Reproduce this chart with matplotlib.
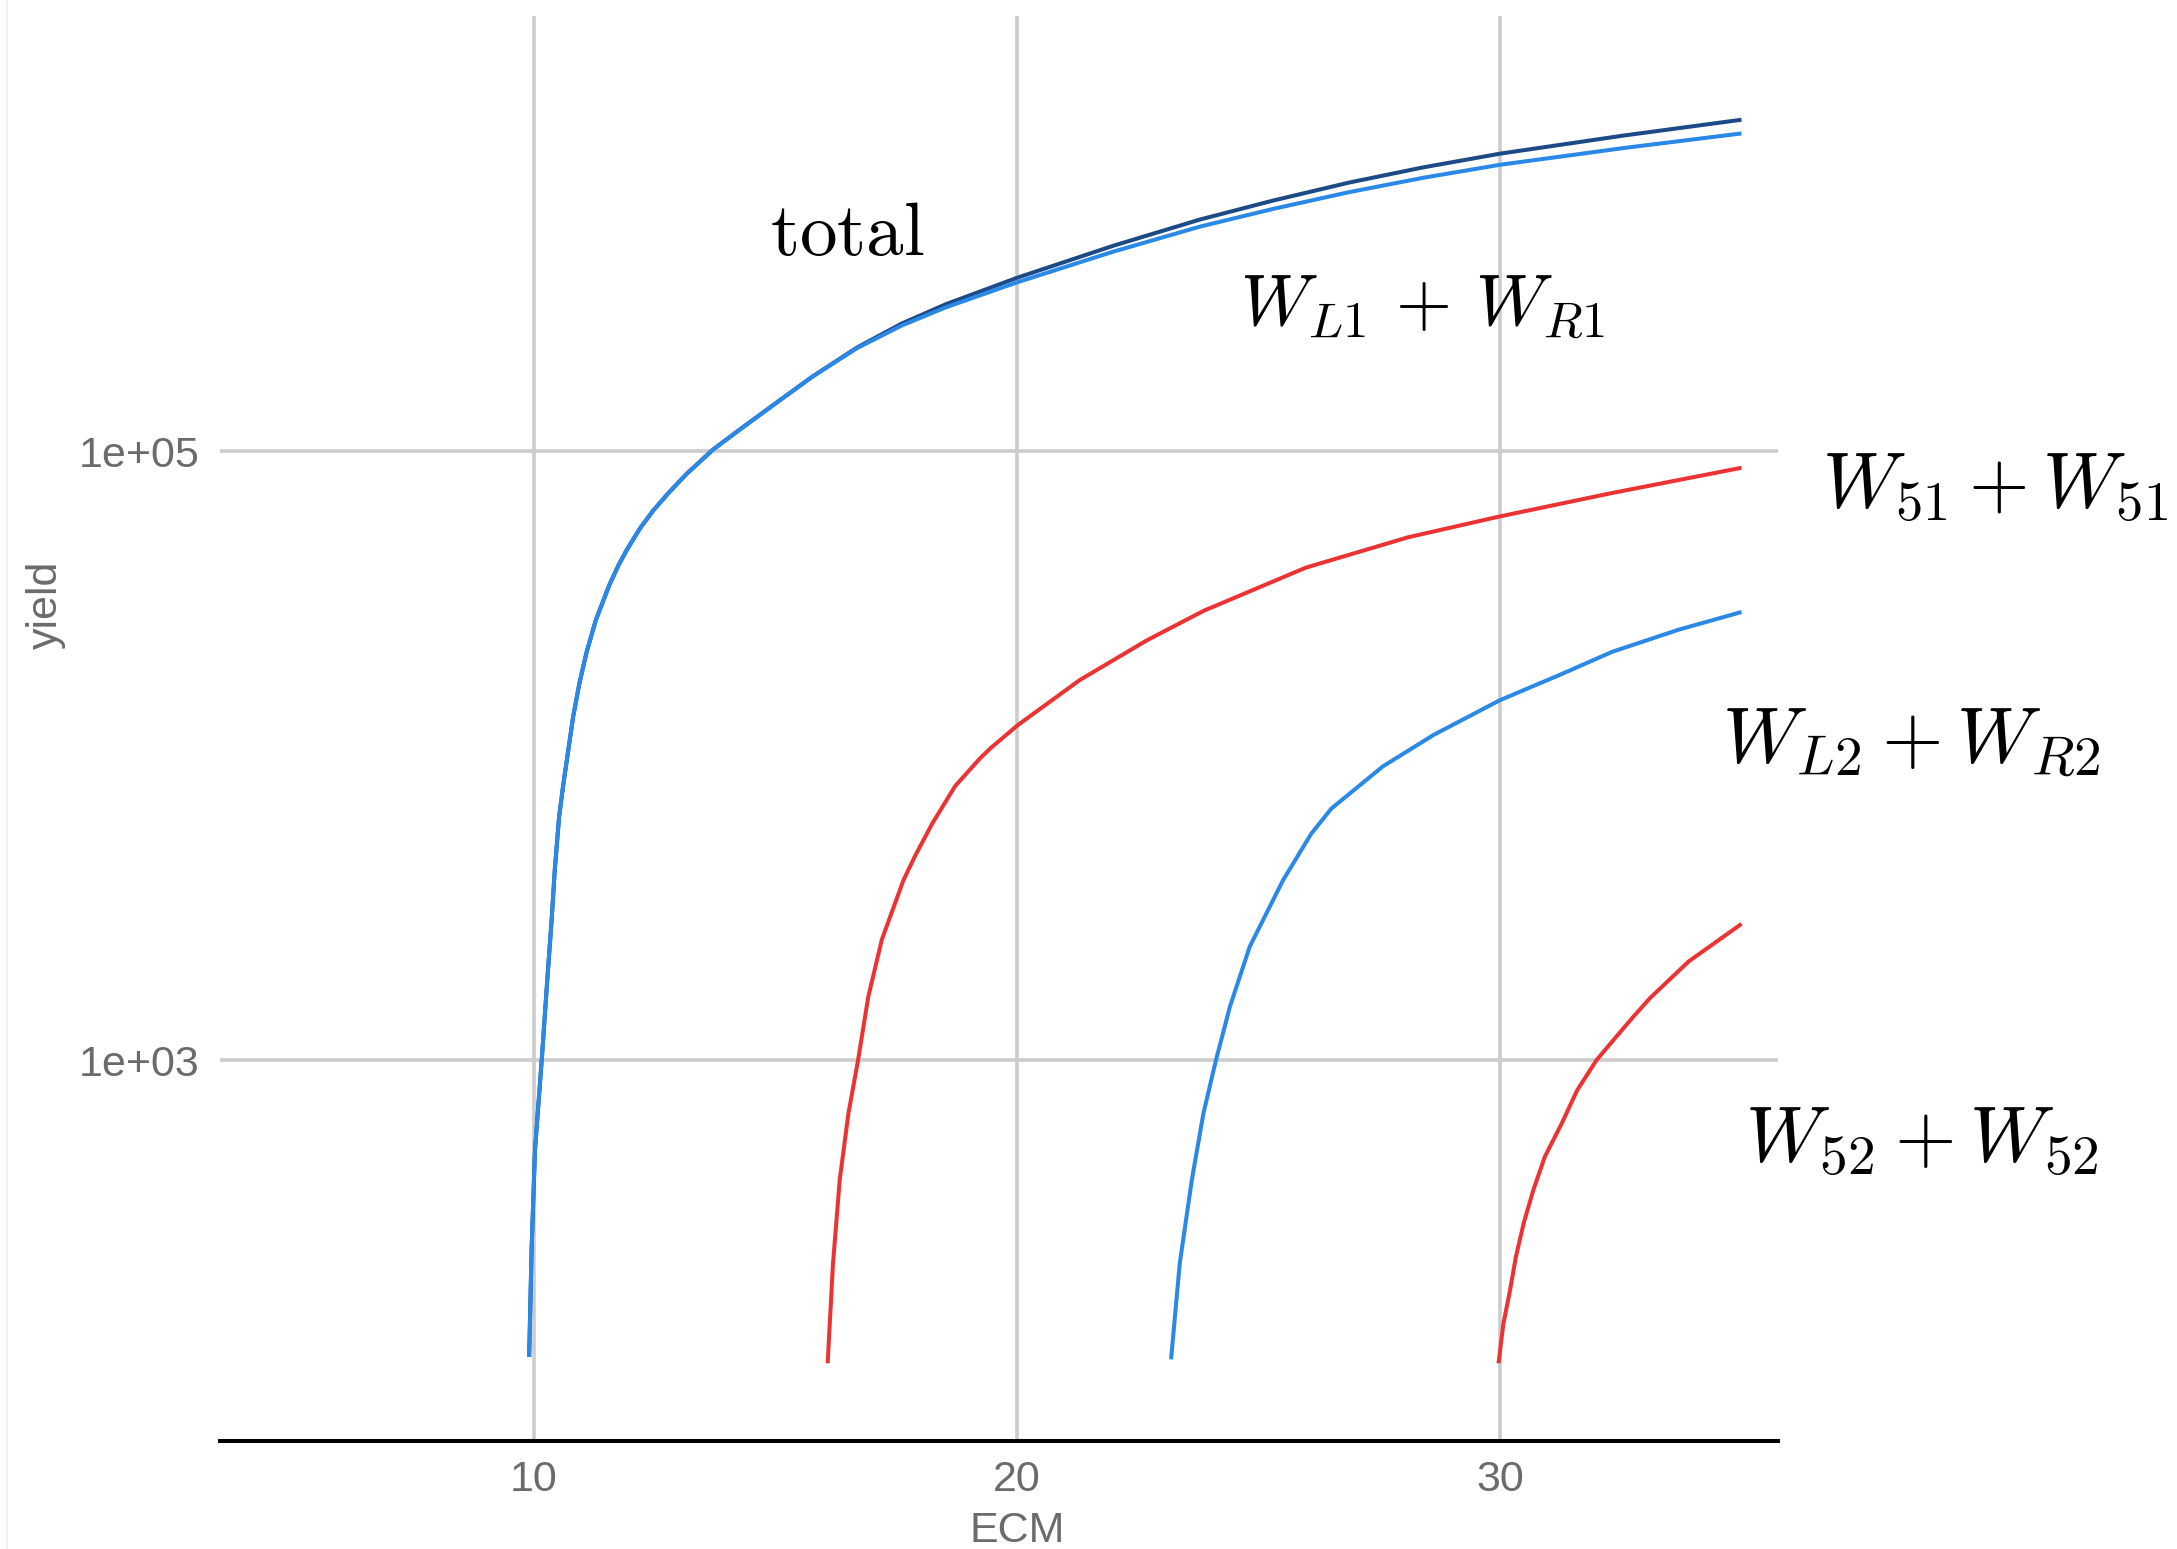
import matplotlib
matplotlib.use('Agg')
import matplotlib.pyplot as plt
from matplotlib.lines import Line2D

# ---------------- data ----------------
ecm_L1 = [9.90, 9.95, 10.02, 10.16, 10.27, 10.37, 10.43, 10.52, 10.61, 10.71,
          10.81, 10.94, 11.09, 11.28, 11.56, 11.75, 11.92, 12.19, 12.47, 12.80,
          13.16, 13.71, 14.30, 15.03, 15.77, 16.69, 17.61, 18.53, 20.02, 22.0,
          23.79, 25.3, 26.87, 28.4, 30.0, 32.56, 35.0]
yield_L1 = [106, 238, 506, 1000, 1786, 2958, 4207, 6295, 8110, 10420,
            13400, 17260, 21880, 27860, 36310, 42170, 47320, 55590, 63830, 73280,
            84140, 101200, 118900, 144500, 175800, 217800, 258200, 296500, 358900, 451900,
            545800, 623700, 707900, 788900, 871000, 988600, 1104000]

ecm_total = ecm_L1
yield_total = [106, 238, 506, 1000, 1786, 2958, 4207, 6295, 8110, 10420,
               13400, 17260, 21880, 27860, 36310, 42170, 47320, 55590, 63830, 73280,
               84140, 101200, 118900, 144500, 175800, 218800, 262000, 303600, 371500, 472500,
               575800, 664400, 761000, 853500, 947300, 1086400, 1224500]

ecm_51 = [16.08, 16.19, 16.33, 16.51, 16.71, 16.92, 17.20, 17.65, 17.89, 18.24,
          18.72, 19.23, 19.46, 20.02, 21.30, 22.69, 23.87, 25.98, 28.10, 30.0,
          32.32, 35.0]
yield_51 = [101, 214, 404, 668, 1000, 1610, 2480, 3900, 4680, 5960,
            7940, 9770, 10600, 12600, 17700, 23900, 29900, 41400, 52100, 61000,
            72800, 88100]

ecm_L2 = [23.19, 23.37, 23.62, 23.86, 24.12, 24.41, 24.82, 25.51, 26.09, 26.51,
          27.04, 27.57, 28.63, 30.0, 31.27, 32.32, 33.70, 35.0]
yield_L2 = [104, 215, 404, 668, 1000, 1500, 2360, 3900, 5530, 6700,
            7850, 9200, 11700, 15200, 18500, 21900, 25900, 29600]

ecm_52 = [29.97, 30.07, 30.21, 30.33, 30.49, 30.69, 30.93, 31.28, 31.60, 32.0,
          32.35, 32.76, 33.11, 33.91, 35.0]
yield_52 = [101, 136, 176, 226, 291, 374, 482, 620, 797, 1000,
            1164, 1387, 1600, 2110, 2800]

x_ticks = [10, 20, 30]
x_ticklabels = ['10', '20', '30']
y_ticks = [1e3, 1e5]
y_ticklabels = ['1e+03', '1e+05']

labels = [r'$\mathrm{total}$', r'$W_{L1} \,+\, W_{R1}$', r'$W_{51} + W_{51}$',
          r'$W_{L2} + W_{R2}$', r'$W_{52} + W_{52}$']

# ---------------- style ----------------
plt.rcParams['mathtext.fontset'] = 'cm'
plt.rcParams['font.family'] = ['Liberation Sans', 'DejaVu Sans']

W, H = 2177, 1549
fig = plt.figure(figsize=(W / 100, H / 100), dpi=100)
fig.patch.set_facecolor('white')

ax_l, ax_r, ax_t, ax_b = 220, 1778, 16, 1441
ax = fig.add_axes([ax_l / W, 1 - ax_b / H, (ax_r - ax_l) / W, (ax_b - ax_t) / H])

dark = '#1b4a86'
blue = '#2a88e6'
red = '#ec3334'
lw = 2.9

ax.plot(ecm_total, yield_total, color=dark, lw=lw, solid_capstyle='butt', solid_joinstyle='round')
ax.plot(ecm_L1, yield_L1, color=blue, lw=lw, solid_capstyle='butt', solid_joinstyle='round')
ax.plot(ecm_51, yield_51, color=red, lw=lw, solid_capstyle='butt', solid_joinstyle='round')
ax.plot(ecm_L2, yield_L2, color=blue, lw=lw, solid_capstyle='butt', solid_joinstyle='round')
ax.plot(ecm_52, yield_52, color=red, lw=lw, solid_capstyle='butt', solid_joinstyle='round')

ax.set_yscale('log')
ax.set_xlim(3.499, 35.756)
ax.set_ylim(10 ** 1.749, 10 ** 6.4286)

ax.set_xticks(x_ticks)
ax.set_xticklabels(x_ticklabels)
ax.set_yticks(y_ticks)
ax.set_yticklabels(y_ticklabels)
ax.minorticks_off()
ax.tick_params(axis='both', length=0, labelsize=31, labelcolor='#6b6b6b')
ax.tick_params(axis='x', pad=14)
ax.tick_params(axis='y', pad=15)

ax.grid(True, which='major', color='#cccccc', lw=2.6)
ax.set_axisbelow(True)
for s in ['left', 'right', 'top']:
    ax.spines[s].set_visible(False)
ax.spines['bottom'].set_color('black')
ax.spines['bottom'].set_linewidth(2.9)
ax.set_facecolor('white')

ax.set_xlabel('ECM', fontsize=31, color='#6b6b6b', va='top')
ax.xaxis.set_label_coords((1017 - ax_l) / (ax_r - ax_l), (ax_b - 1511) / (ax_b - ax_t))
ax.set_ylabel('yield', fontsize=31, color='#6b6b6b', va='center')
ax.yaxis.set_label_coords((46 - ax_l) / (ax_r - ax_l), (ax_b - 605) / (ax_b - ax_t))

# faint border line at the left edge
fig.add_artist(Line2D([7 / W, 7 / W], [0, 1], transform=fig.transFigure,
                      color='#ececec', lw=1.2))

# annotations (left, baseline in pixels, fontsize)
label_pos = [(770, 255, 54), (1240, 325, 52), (1822, 507, 56),
             (1722, 762, 57), (1745, 1162, 57)]
for txt, (px, py, fs) in zip(labels, label_pos):
    fig.text(px / W, 1 - py / H, txt, fontsize=fs, ha='left', va='baseline',
             color='black')

fig.savefig('out.png', dpi=100, facecolor='white')
